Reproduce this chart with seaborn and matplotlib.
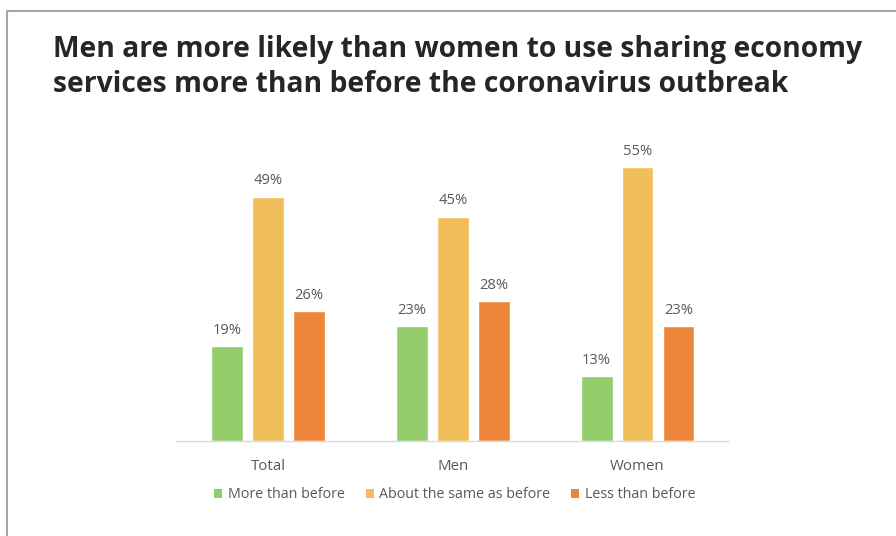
import matplotlib
matplotlib.use("Agg")
import matplotlib.pyplot as plt
import seaborn as sns
import pandas as pd
from matplotlib.lines import Line2D
from matplotlib.patches import Patch

categories = ["Total", "Men", "Women"]
series = ["More than before", "About the same as before", "Less than before"]
more_than_before = [19, 23, 13]
about_same = [49, 45, 55]
less_than_before = [26, 28, 23]
colors = ["#92CC6B", "#F0BF5B", "#ED8638"]
title_lines = ["Men are more likely than women to use sharing economy",
               "services more than before the coronavirus outbreak"]

rows = []
for s, vals in zip(series, [more_than_before, about_same, less_than_before]):
    for c, v in zip(categories, vals):
        rows.append({"cat": c, "series": s, "value": v})
df = pd.DataFrame(rows)

sns.set_theme(style="white")
plt.rcParams["font.family"] = ["Open Sans", "DejaVu Sans"]

fig = plt.figure(figsize=(8.96, 5.36), dpi=100)
ax = fig.add_axes([176/896, (536-441)/536, 552/896, (441-142)/536])

sns.barplot(data=df, x="cat", y="value", hue="series", order=categories,
            hue_order=series, palette=colors, width=0.665, gap=0.22,
            ax=ax, legend=False, saturation=1)

ax.set_ylim(0, 60)
ax.set_xlim(-0.5, 2.49)
ax.set_xlabel("")
ax.set_ylabel("")
ax.set_yticks([])
for sp in ["top", "right", "left"]:
    ax.spines[sp].set_visible(False)
ax.spines["bottom"].set_color("#D9D9D9")
ax.spines["bottom"].set_linewidth(1)
ax.tick_params(axis="x", length=0, pad=13, labelsize=10.8, labelcolor="#595959")

for cont in ax.containers:
    ax.bar_label(cont, labels=[f"{int(v)}%" for v in cont.datavalues],
                 padding=6, fontsize=10.6, color="#595959")

handles = [Patch(facecolor=c, edgecolor="none") for c in colors]
fig.legend(handles, series, loc="center", bbox_to_anchor=(455/896, (536-495)/536),
           ncol=3, frameon=False, fontsize=10.3, handlelength=0.55, handleheight=0.55,
           handletextpad=0.4, columnspacing=1.45, labelcolor="#595959")

for i, line in enumerate(title_lines):
    fig.text(53/896, 1 - (57 + 35*i)/536, line,
             fontsize=20.3, fontweight="bold", color="#262626", va="baseline", ha="left",
             family=["Open Sans", "DejaVu Sans"])

# frame border (top and left)
fig.add_artist(Line2D([7/896, 1], [1 - 11/536, 1 - 11/536], color="#A6A6A6", lw=1.5, transform=fig.transFigure))
fig.add_artist(Line2D([7/896, 7/896], [0, 1 - 11/536], color="#A6A6A6", lw=1.5, transform=fig.transFigure))

fig.savefig("out.png", dpi=100)
